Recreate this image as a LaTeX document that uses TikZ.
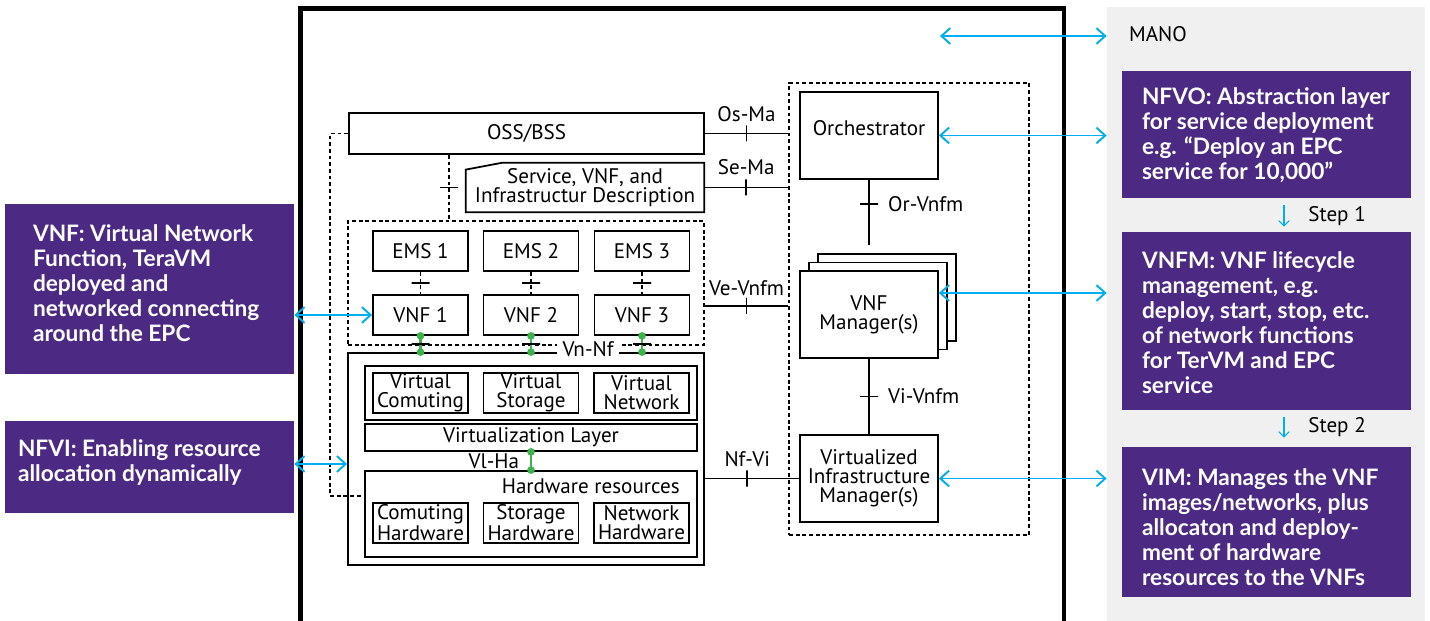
\documentclass[tikz,border=0pt]{standalone}
\usepackage{fontspec}
\setmainfont{PT Sans}
\newfontfamily\notefont{Lato}
\usepackage{tikz}
\usetikzlibrary{arrows.meta,positioning,calc}
\usepackage{xcolor}
\definecolor{mpurple}{HTML}{4C2A84}
\definecolor{mblue}{HTML}{00AEEF}
\definecolor{mgreen}{HTML}{3CB44B}
\definecolor{mgray}{HTML}{F0F0F0}
\tikzstyle{box}=[rectangle, draw=black, line width=1pt, inner sep=0pt, align=center]
\tikzstyle{sbox}=[box, minimum width=1.9cm, minimum height=0.8cm]
\tikzstyle{mbox}=[box, minimum width=2.76cm, minimum height=1.74cm]
\tikzstyle{l1}=[line width=1pt]
\tikzstyle{dt}=[line width=1pt, dash pattern=on 2.2pt off 1.6pt]
\tikzstyle{tkv}=[-, draw=black, solid, line width=1pt, minimum width=0pt, minimum height=0.32cm, inner sep=0pt, shorten <=0pt, shorten >=0pt]
\tikzstyle{tkh}=[-, draw=black, solid, line width=1pt, minimum width=0.36cm, minimum height=0pt, inner sep=0pt, shorten <=0pt, shorten >=0pt]
\tikzstyle{gl}=[line width=1.2pt, mgreen, {Circle[length=0.15cm]}-{Circle[length=0.15cm]}, shorten <=-0.075cm, shorten >=-0.075cm]
\tikzstyle{barr}=[line width=1.1pt, mblue, {Straight Barb[length=5pt,width=9pt]}-{Straight Barb[length=5pt,width=9pt]}]
\tikzstyle{stp}=[line width=0.6pt, mblue, -{Straight Barb[length=3pt,width=6pt]}]
\tikzstyle{purp}=[rectangle, fill=mpurple, inner sep=0pt]
\tikzstyle{ptxt}=[text=white, font=\notefont\bfseries\fontsize{12.9}{14.2}\selectfont, align=left, inner sep=0pt]

\begin{document}
\begin{tikzpicture}[font=\fontsize{12}{10.8}\selectfont]

    \useasboundingbox (0,0) rectangle (28.6,-12.42);
    \node[fill=mgray, minimum width=6.36cm, minimum height=12.5cm, inner sep=0pt] (panel) at (25.32,-6.39) {};
    \draw[line width=2.55pt] (6.01,-12.6) -- (6.01,-0.17) -- (21.28,-0.17) -- (21.28,-12.6);

    % left notes
    \node[purp, minimum width=5.78cm, minimum height=3.4cm] (vnfd) at (2.99,-5.78) {};
    \node[ptxt, anchor=west] (vnft) at ([xshift=0.56cm, yshift=0.12cm]vnfd.west) {VNF: Virtual Network\\Function, TeraVM\\deployed and\\networked connecting\\around the EPC};
    \node[purp, minimum width=5.78cm, minimum height=1.84cm] (nfvid) at (2.99,-9.34) {};
    \node[ptxt, anchor=west] (nfvit) at ([xshift=0.26cm, yshift=0.09cm]nfvid.west) {NFVI: Enabling resource\\allocation dynamically};

    % right notes
    \node[anchor=west] (manot) at (22.46,-0.68) {MANO};
    \node[purp, minimum width=5.78cm, minimum height=2.54cm] (nfvo) at (25.33,-2.69) {};
    \node[ptxt, anchor=west] (nfvot) at ([xshift=0.4cm, yshift=-0.02cm]nfvo.west) {NFVO: Abstraction layer\\for service deployment\\e.g. “Deploy an EPC\\service for 10,000”};
    \node[purp, minimum width=5.78cm, minimum height=3.56cm] (vnfmb) at (25.33,-6.42) {};
    \node[ptxt, anchor=west] (vnfmt) at ([xshift=0.4cm, yshift=-0.03cm]vnfmb.west) {VNFM: VNF lifecycle\\management, e.g.\\deploy, start, stop, etc.\\of network functions\\for TerVM and EPC\\service};
    \node[purp, minimum width=5.78cm, minimum height=3.0cm] (vimb) at (25.33,-10.44) {};
    \node[ptxt, anchor=west] (vimt) at ([xshift=0.4cm, yshift=-0.1cm]vimb.west) {VIM: Manages the VNF\\images/networks, plus\\allocaton and deploy-\\ment of hardware\\resources to the VNFs};
    \draw[stp] ([xshift=0.35cm, yshift=-0.14cm]nfvo.south) -- ([xshift=0.35cm, yshift=0.1cm]vnfmb.north) node[midway, right=0.36cm, text=black] {Step 1};
    \draw[stp] ([xshift=0.35cm, yshift=-0.14cm]vnfmb.south) -- ([xshift=0.35cm, yshift=0.18cm]vimb.north) node[midway, right=0.36cm, text=black] {Step 2};

    % OSS and description
    \node[box, minimum width=7.1cm, minimum height=0.82cm] (oss) at (10.53,-2.67) {OSS/BSS};
    \node[align=center, minimum width=4.76cm, minimum height=0.98cm, inner sep=0pt] (desc) at (11.7,-3.75) {Service, VNF, and\\Infrastructur Description};
    \draw[l1] (desc.south west) -- ([yshift=-0.14cm]desc.north west) -- ([xshift=0.74cm]desc.north west) -- (desc.north east) -- (desc.south east) -- cycle;

    % EMS / VNF
    \node[draw, dt, minimum width=7.12cm, minimum height=2.48cm] (emsg) at (10.52,-5.66) {};
    \node[box, minimum width=7.12cm, minimum height=4.24cm] (nfvi) at (10.52,-9.18) {};
    \foreach \i/\x in {1/8.41, 2/10.62, 3/12.84}{
        \node[sbox] (ems\i) at (\x,-5.02) {EMS \i};
        \node[sbox] (vnf\i) at (\x,-6.3) {VNF \i};
        \draw[dt] (ems\i) -- (vnf\i) node[midway, tkh] {};
        \draw[gl] (vnf\i.south) -- (vnf\i.south |- nfvi.north) node[midway, tkh] {};
    }
    \node[fill=white, inner xsep=3pt, inner ysep=1pt] (vnnf) at (11.76,-6.98) {Vn-Nf};

    % NFVI
    \node[box, minimum width=6.64cm, minimum height=1.08cm] (vres) at (10.62,-7.86) {};
    \node[sbox] (vcomp) at (8.41,-7.86) {Virtual\\Comuting};
    \node[sbox, on grid, right=2.21cm of vcomp] (vstor) {Virtual\\Storage};
    \node[sbox, on grid, right=2.21cm of vstor] (vnet) {Virtual\\Network};
    \node[box, minimum width=6.64cm, minimum height=0.54cm] (vlay) at (10.62,-8.75) {Virtualization Layer};
    \node[box, minimum width=6.64cm, minimum height=1.72cm] (hwres) at (10.62,-10.28) {};
    \node[anchor=east] (hwt) at ([xshift=-0.24cm, yshift=-0.32cm]hwres.north east) {Hardware resources};
    \node[sbox, on grid, below=2.6cm of vcomp] (hcomp) {Comuting\\Hardware};
    \node[sbox, on grid, below=2.6cm of vstor] (hstor) {Storage\\Hardware};
    \node[sbox, on grid, below=2.6cm of vnet] (hnet) {Network\\Hardware};
    \draw[gl] (vstor.south |- vlay.south) -- (vstor.south |- hwres.north) node[midway, left=0.1cm, text=black] {Vl-Ha};

    \draw[dt] ([xshift=-1.55cm]oss.south) -- ([xshift=-1.55cm]oss.south |- emsg.north) node[midway, tkh] {};
    \draw[dt] (oss.west) -- ++(-0.36,0) |- ([yshift=-0.52cm]hwres.north west);

    % MANO
    \node[draw, dt, minimum width=4.8cm, minimum height=9.04cm] (mano) at (18.18,-6.18) {};
    \node[mbox] (orch) at (17.38,-2.71) {};
    \node (orcht) at ([yshift=0.15cm]orch.center) {Orchestrator};
    \node[mbox, fill=white] (vnfm3) at (17.74,-5.95) {};
    \node[mbox, fill=white] (vnfm2) at (17.56,-6.12) {};
    \node[mbox, fill=white] (vnfm1) at (17.38,-6.29) {VNF\\Manager(s)};
    \node[mbox] (vim) at (17.38,-9.57) {Virtualized\\Infrastructure\\Manager(s)};
    \draw[l1] (orch.south) -- ([yshift=0.16cm]orch.south |- vnfm3.north) node[pos=0.37, tkh] {} node[pos=0.37, right=0.25cm] {Or-Vnfm};
    \draw[l1] (vnfm1.south) -- (vim.north) node[midway, tkh] {} node[midway, right=0.25cm] {Vi-Vnfm};

    % reference points
    \draw[l1] (oss.east) -- (oss.east -| mano.west) node[midway, tkv] {} node[midway, yshift=0.38cm] {Os-Ma};
    \draw[l1] (desc.east) -- (desc.east -| mano.west) node[midway, tkv] {} node[midway, yshift=0.4cm] {Se-Ma};
    \draw[l1] ([yshift=-0.46cm]emsg.east) -- ([yshift=-0.46cm]emsg.east -| mano.west) node[midway, tkv] {} node[midway, yshift=0.36cm] {Ve-Vnfm};
    \draw[l1] (nfvi.east |- vim.west) -- (vim.west) node[pos=0.45, tkv] {} node[pos=0.45, yshift=0.38cm] {Nf-Vi};

    % blue links
    \coordinate (m0) at (18.8,-0.72);
    \draw[barr] (m0) -- (m0 -| panel.west);
    \draw[barr] (orch.east) -- (orch.east -| panel.west);
    \draw[barr] ([yshift=0.43cm]vnfm1.east) -- ([yshift=0.43cm]vnfm1.east -| panel.west);
    \draw[barr] (vim.east) -- (vim.east -| panel.west);
    \draw[barr] (vnf1.west -| vnfd.east) -- (vnf1.west);
    \draw[barr] ([yshift=0.06cm]nfvid.east) -- ([yshift=0.06cm]nfvid.east -| nfvi.west);

\end{tikzpicture}
\end{document}
